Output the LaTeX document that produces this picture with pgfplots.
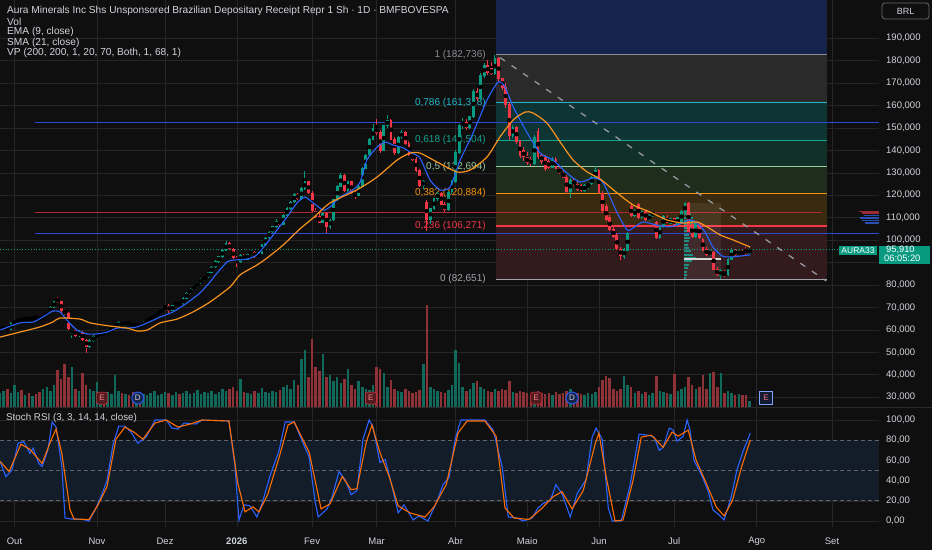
\documentclass[border=0pt]{standalone}
\usepackage{fontspec}
\setmainfont{Liberation Sans}
\usepackage{pgfplots}
\usepackage{pgfplotstable}
\pgfplotsset{compat=1.18}
\definecolor{bgc}{HTML}{0F0F0F}
\definecolor{gridc}{HTML}{262626}
\definecolor{txt}{HTML}{D1D4DC}
\definecolor{upc}{HTML}{089981}
\definecolor{dnc}{HTML}{F23645}
\definecolor{vup}{HTML}{11695C}
\definecolor{vdn}{HTML}{8F3238}
\definecolor{emac}{HTML}{2962FF}
\definecolor{smac}{HTML}{F7931E}
\definecolor{kc}{HTML}{2962FF}
\definecolor{dc}{HTML}{FF6D00}
\definecolor{fibgrey}{HTML}{8A8D96}
\definecolor{fibcyan}{HTML}{22B8CF}
\definecolor{fibteal}{HTML}{14A38F}
\definecolor{fibgreen}{HTML}{9CCB9E}
\definecolor{fiborange}{HTML}{F5930C}
\definecolor{fibred}{HTML}{F23645}
\definecolor{zblue}{HTML}{16234A}
\definecolor{zgrey}{HTML}{2A2A2A}
\definecolor{zcyan}{HTML}{0E3434}
\definecolor{zteal}{HTML}{12302A}
\definecolor{zgreen}{HTML}{1E2D1C}
\definecolor{zorange}{HTML}{3A2A10}
\definecolor{zred}{HTML}{321A1D}
\definecolor{hblue}{HTML}{2B4BD0}
\definecolor{hred}{HTML}{B02A35}
\definecolor{band}{HTML}{121D29}
\definecolor{sepc}{HTML}{2A2A2A}
\definecolor{vpred}{HTML}{9B2B33}
\definecolor{vpblue}{HTML}{2B4FB5}
\definecolor{vpteal}{HTML}{1F8F84}
\newcommand\fs[1]{\fontsize{#1}{#1}\selectfont}

\pgfplotstableread{
i o h l c v
-4 60.0 61.0 59.5 60.5 14
-3 60.5 61.5 60.0 61.0 16
-2 61.0 61.2 59.5 60.0 18
-1 60.0 63.5 59.8 63.0 14
0 63.0 64.2 62.5 63.8 22
1 63.8 65.0 63.0 64.5 15
2 64.5 65.5 63.5 64.0 17
3 64.0 65.8 63.8 65.3 12
4 65.3 65.5 64.0 64.5 14
5 64.5 66.0 64.3 65.6 11
6 65.6 66.0 64.8 65.0 13
7 65.0 65.5 64.3 64.8 15
8 64.8 66.6 64.6 66.2 18
9 66.2 68.5 66.0 68.0 20
10 68.0 70.5 67.8 70.0 16
11 70.0 73.0 69.8 72.5 22
12 74.0 74.6 72.0 72.6 37
13 72.6 73.0 67.5 68.5 28
14 68.5 69.5 66.5 67.5 43
15 67.5 68.0 60.0 60.5 30
16 58.5 60.5 56.5 60.0 40
17 60.0 60.8 56.8 57.5 18
18 57.5 60.0 57.0 59.0 16
19 59.0 59.5 55.0 55.5 34
20 55.5 56.0 49.7 52.5 22
21 52.5 55.8 52.0 55.2 18
22 55.2 57.5 54.8 57.0 16
23 57.0 58.5 56.5 58.0 25
24 58.0 59.2 57.6 58.5 14
25 58.5 59.0 57.8 58.2 12
26 58.2 60.2 58.0 60.0 15
27 60.0 60.8 59.5 60.5 13
28 60.5 62.0 60.2 61.5 32
29 61.5 63.8 61.0 63.2 16
30 63.2 63.5 61.5 62.0 14
31 62.0 64.0 61.8 63.5 13
32 63.5 63.8 62.2 62.6 12
33 62.6 63.0 61.2 61.6 15
34 61.6 62.8 61.3 62.3 11
35 62.3 62.6 60.8 61.8 14
36 61.8 63.8 61.5 63.5 13
37 63.5 64.8 63.2 64.5 12
38 64.5 65.8 64.2 65.5 14
39 65.5 67.0 65.2 66.6 16
40 66.6 68.4 66.4 68.0 12
41 68.0 69.8 67.8 69.5 13
42 69.5 71.0 69.2 70.6 15
43 70.6 71.5 67.5 68.5 14
44 68.5 71.3 68.2 71.0 12
45 71.0 72.5 70.6 72.0 15
46 72.0 72.4 71.0 71.5 13
47 71.5 74.5 71.3 74.0 14
48 74.0 77.0 73.8 76.5 16
49 76.5 78.5 76.2 78.0 13
50 78.0 80.0 77.6 79.6 14
51 79.6 81.5 79.2 81.0 17
52 81.0 83.0 80.6 82.6 13
53 82.6 84.0 82.0 83.5 15
54 83.5 86.0 83.2 85.6 14
55 85.6 88.5 85.2 88.0 16
56 88.0 91.0 87.6 90.5 13
57 90.5 93.0 90.0 92.6 15
58 92.6 96.0 92.2 95.5 18
59 95.5 99.8 95.0 98.5 16
60 98.5 99.2 95.5 96.0 18
61 96.0 96.5 91.5 92.0 20
62 92.0 93.0 88.2 90.5 16
63 90.5 93.8 90.0 93.2 28
64 93.2 93.6 91.0 91.5 15
65 91.5 94.0 91.2 93.6 14
66 93.6 95.6 93.0 94.6 13
67 94.6 95.0 92.0 92.5 16
68 92.5 94.5 92.0 94.0 14
69 94.0 98.5 93.8 98.0 19
70 98.0 101.5 97.6 101.0 15
71 101.0 104.0 100.6 103.6 14
72 103.6 106.5 103.2 106.0 16
73 106.0 109.5 105.6 108.6 15
74 108.6 109.0 106.5 107.0 17
75 107.0 111.5 106.8 111.0 20
76 111.0 114.6 110.6 114.0 22
77 114.0 117.5 113.6 117.0 18
78 117.0 121.0 116.6 120.5 27
79 120.5 121.0 118.0 118.5 22
80 118.5 123.5 118.0 123.0 48
81 123.0 131.0 122.5 126.0 57
82 126.0 126.5 120.5 121.0 30
83 121.0 122.0 112.5 113.0 68
84 113.0 114.5 110.0 110.5 40
85 110.5 112.0 107.5 108.0 36
86 108.0 112.5 107.6 112.0 53
87 112.0 112.5 103.0 106.0 30
88 106.0 109.5 105.0 109.0 32
89 109.0 118.5 108.6 118.0 26
90 118.0 124.5 117.6 124.0 30
91 124.0 130.0 123.5 129.0 24
92 129.0 129.5 121.5 122.0 28
93 122.0 126.5 121.5 126.0 38
94 126.0 126.3 120.5 121.0 22
95 121.0 122.0 118.5 120.0 18
96 120.0 124.5 119.6 124.0 26
97 124.0 132.5 123.6 132.0 20
98 132.0 138.5 131.6 138.0 18
99 138.0 145.5 137.6 145.0 17
100 145.0 152.0 144.6 150.0 22
101 150.0 154.0 147.0 148.0 40
102 148.0 149.0 139.0 140.0 38
103 140.0 151.5 139.6 151.0 34
104 151.0 155.8 150.0 153.5 20
105 153.5 154.0 144.5 145.0 27
106 145.0 146.0 138.0 139.0 18
107 139.0 146.5 138.6 146.0 16
108 146.0 149.0 145.0 148.0 15
109 148.0 148.5 142.5 143.0 18
110 143.0 144.0 137.5 138.0 16
111 138.0 139.0 135.5 136.0 14
112 136.0 137.0 130.5 131.0 15
113 131.0 131.5 123.5 124.5 17
114 124.5 127.0 123.0 126.0 43
115 117.0 118.0 104.0 109.0 102
116 109.0 114.5 107.0 114.0 20
117 114.0 119.0 113.5 118.5 18
118 118.5 121.5 117.5 121.0 16
119 121.0 121.5 115.5 116.0 15
120 116.0 117.0 112.5 113.5 14
121 113.5 122.0 113.0 121.5 17
122 121.5 127.0 120.5 126.0 22
123 126.0 140.0 125.5 139.0 57
124 139.0 152.0 138.5 151.0 44
125 151.0 154.5 149.5 152.5 20
126 152.5 154.0 149.0 150.0 16
127 150.0 155.5 149.5 155.0 18
128 155.0 167.5 154.5 166.5 24
129 166.5 168.0 162.0 163.0 26
130 163.0 174.5 162.5 173.5 20
131 173.5 179.0 172.5 178.0 18
132 178.0 180.5 173.5 174.5 16
133 176.5 179.5 173.5 174.0 15
134 174.0 182.7 173.5 181.0 18
135 181.0 181.5 171.0 172.0 16
136 172.0 172.5 167.0 168.0 18
137 168.0 170.0 159.0 160.5 17
138 160.5 161.5 144.5 146.5 26
139 146.5 151.5 145.5 150.5 15
140 150.5 151.0 143.0 144.0 14
141 144.0 144.5 136.5 137.5 16
142 140.0 141.5 135.5 137.0 15
143 137.0 139.5 133.5 134.5 14
144 136.0 137.0 133.0 134.0 13
145 134.0 147.0 133.5 146.0 15
146 148.5 150.0 136.0 137.0 16
147 138.0 139.0 134.0 135.0 14
148 137.0 138.0 131.0 132.0 13
149 135.0 136.0 131.5 132.5 14
150 132.5 137.0 132.0 136.0 12
151 136.0 137.0 131.5 132.0 15
152 132.0 133.0 129.5 130.0 13
153 130.0 131.0 127.5 128.0 14
154 128.0 129.0 120.5 121.5 16
155 121.5 127.5 119.0 126.5 18
156 126.5 127.5 124.0 125.0 12
157 125.0 126.5 122.0 122.5 14
158 124.5 125.0 121.5 122.0 13
159 122.0 125.0 121.5 124.5 12
160 124.0 125.5 123.0 125.0 14
161 125.0 128.5 124.5 128.0 13
162 128.0 133.0 127.5 131.0 15
163 131.0 131.5 120.5 121.0 20
164 121.0 122.0 112.5 113.0 27
165 115.0 116.0 108.5 109.0 31
166 110.0 111.0 104.0 104.5 29
167 105.0 106.0 101.0 101.5 18
168 102.0 103.0 95.5 96.0 16
169 96.0 97.0 91.0 93.0 18
170 92.5 96.5 91.5 96.0 31
171 95.5 103.5 95.0 103.0 22
172 115.0 116.5 110.5 111.0 20
173 111.0 114.0 110.5 113.5 14
174 116.0 116.5 109.5 110.0 16
175 110.0 113.5 109.5 113.0 13
176 113.0 113.5 108.5 109.0 15
177 109.0 111.5 108.5 111.0 12
178 111.0 113.0 110.5 112.5 14
179 108.0 108.5 100.5 101.0 31
180 101.0 106.5 100.5 106.0 16
181 106.0 111.0 105.5 110.5 15
182 110.0 111.0 107.5 108.0 14
183 107.5 110.0 107.0 109.5 13
184 109.5 110.0 106.5 107.0 33
185 107.0 110.5 106.5 110.0 16
186 108.0 113.5 107.5 113.0 18
187 112.0 117.0 111.5 116.5 20
188 116.5 117.0 103.5 104.0 30
189 107.0 108.0 101.0 101.5 22
190 101.5 107.5 101.0 107.0 18
191 107.0 107.5 100.5 101.0 20
192 100.5 101.0 95.0 95.5 32
193 96.0 97.0 93.0 93.5 18
194 93.5 95.5 93.0 95.0 34
195 94.5 95.0 86.5 87.0 35
196 87.0 88.0 83.8 84.5 20
197 84.0 87.0 82.65 86.5 34
198 86.0 86.5 83.5 84.5 14
199 84.5 92.0 84.0 91.5 16
200 91.5 96.5 91.0 95.5 14
201 95.5 96.0 93.0 93.5 12
202 93.5 95.5 93.0 95.0 13
203 95.0 95.5 93.0 93.5 12
204 96.0 97.0 93.5 94.0 12
205 94.0 96.8 93.8 95.91 6
}\ohlc

\pgfplotsset{
  pane/.style={at={(0pt,143pt)}, anchor=south west, scale only axis,
    width=879pt, height=407pt, xmin=-4.04, xmax=241.1, ymin=25.61, ymax=207.06},
}
\tikzset{
  emark/.style={draw=dnc, fill=dnc!30!bgc, text=dnc!60!white, font=\fs{8}, inner sep=0pt,
        minimum width=11pt, minimum height=12pt, rounded corners=1.5pt},
  dmark/.style={circle, draw=emac, fill=emac!25!bgc, text=txt, font=\fs{8}, inner sep=0pt,
        minimum size=12pt, line width=0.9pt},
}

\begin{document}
\begin{tikzpicture}
\path[use as bounding box, fill=bgc] (0,0) rectangle (932pt,550pt);

% ---------- main pane: grid, fib zones, levels
\begin{axis}[pane,
  xtick={0,23,42,62,83,101,123,143,163,184,207,228}, xticklabels={},
  ytick={30,40,50,60,70,80,100,110,120,130,140,150,160,170,180,190}, yticklabel pos=right,
  extra y ticks={90}, extra y tick labels={},
  /pgf/number format/assume math mode=true,
  yticklabel={\pgfmathprintnumber[fixed,fixed zerofill,precision=3,use comma]{\tick}},
  yticklabel style={anchor=west, xshift=7pt, inner sep=0pt, text=txt, font=\fs{9.5}},
  grid=major, grid style={gridc, line width=0.6pt},
  axis line style={draw=none}, major tick length=0pt]
\addplot[fill=zblue, draw=none] coordinates {(134.3,182.736)(226.6,182.736)(226.6,207.06)(134.3,207.06)} -- cycle;
\addplot[fill=zgrey, draw=none] coordinates {(134.3,161.318)(226.6,161.318)(226.6,182.736)(134.3,182.736)} -- cycle;
\addplot[fill=zcyan, draw=none] coordinates {(134.3,144.504)(226.6,144.504)(226.6,161.318)(134.3,161.318)} -- cycle;
\addplot[fill=zteal, draw=none] coordinates {(134.3,132.694)(226.6,132.694)(226.6,144.504)(134.3,144.504)} -- cycle;
\addplot[fill=zgreen, draw=none] coordinates {(134.3,120.884)(226.6,120.884)(226.6,132.694)(134.3,132.694)} -- cycle;
\addplot[fill=zorange, draw=none] coordinates {(134.3,106.271)(226.6,106.271)(226.6,120.884)(134.3,120.884)} -- cycle;
\addplot[fill=zred, draw=none] coordinates {(134.3,82.651)(226.6,82.651)(226.6,106.271)(134.3,106.271)} -- cycle;
\addplot[fibgrey, line width=1pt] coordinates {(134.3,182.736)(226.6,182.736)};
\addplot[fibcyan, line width=1pt] coordinates {(134.3,161.318)(226.6,161.318)};
\addplot[fibteal, line width=1pt] coordinates {(134.3,144.504)(226.6,144.504)};
\addplot[fibgreen, line width=1pt] coordinates {(134.3,132.694)(226.6,132.694)};
\addplot[fiborange, line width=1.2pt] coordinates {(134.3,120.884)(226.6,120.884)};
\addplot[fibred, line width=1.2pt] coordinates {(134.3,106.271)(226.6,106.271)};
\addplot[fibgrey!80!white, line width=1pt] coordinates {(134.3,82.651)(226.6,82.651)};
\addplot[hblue, line width=1.1pt] coordinates {(5.7,152.5)(241.1,152.5)};
\addplot[hred, line width=1.1pt] coordinates {(5.7,112.5)(225.3,112.5)};
\addplot[hblue, line width=1.1pt] coordinates {(5.7,103.0)(241.1,103.0)};
\end{axis}

% ---------- volume
\begin{axis}[pane, ymin=0, ymax=407, hide axis]
\addplot[ycomb, vup, line width=2.5pt, restrict expr to domain={\thisrow{c}-\thisrow{o}}{0:1000}] table[x=i,y=v]{\ohlc};
\addplot[ycomb, vdn, line width=2.5pt, restrict expr to domain={\thisrow{c}-\thisrow{o}}{-1000:-0.000001}] table[x=i,y=v]{\ohlc};
\end{axis}

% ---------- candles and overlays
\begin{axis}[pane, hide axis, clip mode=individual]
\addplot[upc, dotted, line width=0.8pt] coordinates {(-4.04,95.91)(241.1,95.91)};
\node[anchor=east, text=fibgrey, font=\fs{10}] at (axis cs:132.4,182.736) {1 (182,736)};
\node[anchor=east, text=fibcyan, font=\fs{10}] at (axis cs:132.4,161.318) {0,786 (161,318)};
\node[anchor=east, text=fibteal, font=\fs{10}] at (axis cs:132.4,144.504) {0,618 (144,504)};
\node[anchor=east, text=fibgreen, font=\fs{10}] at (axis cs:132.4,132.694) {0,5 (132,694)};
\node[anchor=east, text=fiborange, font=\fs{10}] at (axis cs:132.4,120.884) {0,382 (120,884)};
\node[anchor=east, text=fibred, font=\fs{10}] at (axis cs:132.4,106.271) {0,236 (106,271)};
\node[anchor=east, text=fibgrey!80!white, font=\fs{10}] at (axis cs:132.4,82.651) {0 (82,651)};
% session volume profile
\addplot[fill=white, fill opacity=0.07, draw=none] coordinates {(186.6,82.65)(197.1,82.65)(197.1,116.6)(186.6,116.6)} -- cycle;
\addplot[vpteal, line width=2pt, quiver={u=\thisrow{w}, v=0}] table[x=x, y=p] {
x p w
186.6 116.0 0.8
186.6 114.5 1.2
186.6 113.0 1.8
186.6 111.5 2.2
186.6 110.0 2.6
186.6 108.5 3.0
186.6 107.0 3.2
186.6 105.5 2.5
186.6 104.0 2.0
186.6 102.5 1.6
186.6 101.0 1.8
186.6 99.5 1.4
186.6 98.0 1.2
186.6 96.5 1.6
186.6 95.0 2.2
186.6 93.5 2.6
186.6 92.0 3.4
186.6 90.5 2.4
186.6 89.0 1.4
186.6 87.5 1.2
186.6 86.0 1.0
186.6 84.5 0.9
186.6 83.0 0.6
};
\addplot[white!85!black, line width=1.5pt] coordinates {(186.6,91.6)(197.1,91.6)};
% visible range profile
\addplot[vpred, line width=1.6pt, quiver={u=\thisrow{w}, v=0}] table[x=x, y=p] {
x p w
235.4 112.7 5.6
236.3 112.0 4.7
};
\addplot[vpblue, line width=1.6pt, quiver={u=\thisrow{w}, v=0}] table[x=x, y=p] {
x p w
236.8 111.0 4.2
235.8 109.9 5.2
236.3 108.7 4.7
237.2 107.6 3.8
};
% wicks and bodies
\addplot[only marks, mark=none, restrict expr to domain={\thisrow{c}-\thisrow{o}}{0:1000},
  error bars/.cd, y dir=both, y explicit, error mark=none, error bar style={upc, line width=1pt}]
  table[x=i, y expr=(\thisrow{h}+\thisrow{l})/2, y error expr=(\thisrow{h}-\thisrow{l})/2]{\ohlc};
\addplot[only marks, mark=none, restrict expr to domain={\thisrow{c}-\thisrow{o}}{-1000:-0.000001},
  error bars/.cd, y dir=both, y explicit, error mark=none, error bar style={dnc, line width=1pt}]
  table[x=i, y expr=(\thisrow{h}+\thisrow{l})/2, y error expr=(\thisrow{h}-\thisrow{l})/2]{\ohlc};
\addplot[only marks, mark=none, restrict expr to domain={\thisrow{c}-\thisrow{o}}{0:1000},
  error bars/.cd, y dir=both, y explicit, error mark=none, error bar style={upc, line width=2.8pt}]
  table[x=i, y expr=(\thisrow{o}+\thisrow{c})/2, y error expr=abs(\thisrow{c}-\thisrow{o})/2+0.15]{\ohlc};
\addplot[only marks, mark=none, restrict expr to domain={\thisrow{c}-\thisrow{o}}{-1000:-0.000001},
  error bars/.cd, y dir=both, y explicit, error mark=none, error bar style={dnc, line width=2.8pt}]
  table[x=i, y expr=(\thisrow{o}+\thisrow{c})/2, y error expr=abs(\thisrow{c}-\thisrow{o})/2+0.15]{\ohlc};
% EMA 9
\addplot[emac, line width=1.1pt, smooth, tension=0.4] coordinates {
(-4.0,59.9)(1.5,63.1)(5.2,63.5)(7.9,65.7)(10.7,68.4)(12.7,68.0)(14.6,64.4)(17.4,59.9)
(20.2,58.2)(23.0,58.2)(25.8,59.0)(28.6,60.8)(31.4,60.8)(34.2,61.3)(37.0,63.1)(40.6,65.7)
(44.2,68.0)(48.1,72.0)(51.7,76.4)(54.5,81.3)(56.5,85.3)(59.3,90.3)(61.0,91.1)(64.9,91.6)
(67.6,93.4)(70.4,98.7)(73.2,104.5)(76.0,110.3)(78.8,116.6)(81.0,119.2)(83.3,116.6)(86.1,113.4)
(88.0,114.8)(90.8,119.2)(94.4,122.4)(96.4,125.9)(98.3,135.7)(101.1,141.5)(103.4,143.7)(105.6,142.4)
(108.4,141.1)(110.9,138.8)(113.1,136.6)(115.9,126.8)(118.7,122.4)(121.5,123.7)(124.3,135.7)(127.9,147.8)
(131.8,162.5)(134.9,170.5)(136.8,168.3)(139.1,159.4)(143.0,147.8)(146.6,138.8)(150.2,135.7)(154.1,129.9)
(157.7,125.9)(161.4,127.7)(164.2,125.5)(168.1,112.1)(170.9,104.5)(172.5,105.4)(175.3,108.1)(179.2,106.7)
(182.8,105.9)(186.2,107.6)(188.4,109.0)(190.4,107.6)(192.6,103.6)(194.8,96.9)(197.4,92.9)(199.6,92.5)
(202.4,92.9)(205.2,93.4)};
% SMA 21
\addplot[smac, line width=1.2pt, smooth, tension=0.4] coordinates {
(-4.0,56.8)(1.5,59.0)(7.1,61.3)(10.7,63.5)(12.7,65.3)(18.3,64.8)(21.1,63.1)(26.6,61.7)
(31.4,60.8)(34.2,59.5)(37.0,59.9)(40.6,63.1)(45.3,64.8)(49.8,68.0)(54.5,72.4)(60.1,79.1)
(62.9,84.5)(67.6,88.9)(70.4,92.0)(74.9,97.8)(79.6,105.0)(83.3,109.9)(88.0,116.6)(95.5,122.4)
(101.1,128.1)(106.7,135.7)(110.3,138.8)(113.1,138.8)(117.9,134.8)(123.4,130.4)(127.1,131.3)(131.8,137.1)
(135.4,146.0)(139.1,153.6)(142.4,157.1)(144.6,156.7)(148.5,152.2)(152.2,143.7)(155.8,135.7)(159.7,130.4)
(163.3,127.3)(168.1,121.0)(172.5,115.7)(177.3,112.5)(182.0,109.0)(186.5,107.6)(190.4,108.1)(193.2,105.9)
(196.8,102.3)(200.4,100.1)(205.2,96.9)};
% trend line
\addplot[fibgrey!90!white, line width=1.3pt, dash pattern=on 6pt off 8pt] coordinates {(135.4,181.4)(226.4,81.8)};
% event markers
\node[emark] at (axis cs:24.4,29.6) {E};
\node[emark] at (axis cs:99.4,29.6) {E};
\node[emark] at (axis cs:145.5,29.6) {E};
\node[dmark] at (axis cs:34.4,29.6) {D};
\node[dmark] at (axis cs:155.5,29.6) {D};
\node[draw=emac!60!white, fill=emac!15!bgc, text=dnc!70!white, font=\fs{8}, inner sep=0pt,
      minimum width=13pt, minimum height=13pt, line width=0.9pt] at (axis cs:209.6,29.6) {E};
\end{axis}

% ---------- Stoch RSI pane
\begin{axis}[at={(0pt,23pt)}, anchor=south west, scale only axis,
  width=879pt, height=119pt, xmin=-4.04, xmax=241.1, ymin=-5.94, ymax=111.88,
  xtick={0,23,42,62,83,101,123,143,163,184,207,228},
  xticklabels={Out,Nov,Dez,\textbf{2026},Fev,Mar,Abr,Maio,Jun,Jul,Ago,Set},
  xticklabel style={anchor=center, yshift=-14pt, text=txt, font=\fs{9.5}},
  ytick={0,20,...,100}, yticklabel pos=right,
  /pgf/number format/assume math mode=true,
  yticklabel={\pgfmathprintnumber[fixed,fixed zerofill,precision=2,use comma]{\tick}},
  yticklabel style={anchor=west, xshift=7pt, inner sep=0pt, text=txt, font=\fs{9.5}},
  grid=major, grid style={gridc, line width=0.6pt},
  axis line style={draw=none}, major tick length=0pt]
\addplot[fill=band, draw=none] coordinates {(-4.04,20)(241.1,20)(241.1,80)(-4.04,80)} -- cycle;
\addplot[fibgrey!70!black, line width=0.8pt, dash pattern=on 4pt off 3pt] coordinates {(-4.04,80)(241.1,80)};
\addplot[fibgrey!70!black, line width=0.8pt, dash pattern=on 4pt off 3pt] coordinates {(-4.04,50)(241.1,50)};
\addplot[fibgrey!70!black, line width=0.8pt, dash pattern=on 4pt off 3pt] coordinates {(-4.04,20)(241.1,20)};
\addplot[kc, line width=1.1pt] coordinates {
(-4.0,58.7)(-2.4,43.9)(-0.7,50.5)(1.0,77)(2.6,78.5)(4.3,67)(5.2,72)(6.8,57)(7.7,54)(9.3,70)
(10.5,98)(11.6,93)(13.2,54)(14.1,3)(15.8,2)(19.1,1.5)(20.8,0)(22.5,11)(24.1,24)(25.8,40)
(27.5,76)(29.1,94)(30.8,94)(32.5,88)(34.4,77)(36.7,83)(39.2,100)(42.3,100)(43.9,92)(45.6,91)
(47.3,97)(50.6,96)(52.3,100)(59.8,99)(61.5,54)(62.6,1)(64.0,16)(65.7,15)(67.6,4)(69.0,17)
(71.3,45)(73.8,70)(75.5,98)(78.0,98)(80.5,77)(82.2,63)(83.8,20)(84.7,4)(87.2,12)(88.6,24)
(90.5,49)(92.2,41)(93.9,26)(95.5,30)(97.2,81)(98.9,100)(100.0,93)(101.9,58)(103.4,61)(105.3,34)
(107.0,8)(108.6,16)(111.2,1)(112.8,5)(115.3,0)(117.9,20)(119.5,36)(121.2,43)(122.9,81)(124.5,100)
(131.2,100)(133.5,90)(136.0,54)(137.7,4)(140.2,3)(141.8,0)(144.4,3)(146.0,13)(147.7,18)(149.4,20)
(151.0,36)(152.7,27)(155.0,4)(156.9,27)(159.4,41)(161.1,83)(162.2,92)(163.9,81)(165.6,13)(166.7,0)
(169.2,0)(171.7,36)(174.2,86)(176.7,85)(178.4,83)(179.8,70)(180.9,73)(182.6,92)(183.7,90)(184.8,79)
(186.5,84)(187.6,100)(188.4,90)(189.5,60)(191.8,44)(193.4,30)(194.8,11)(196.5,6)(197.9,1)(199.9,24)
(201.5,51)(203.2,69)(205.2,87)};
\addplot[dc, line width=1.1pt] coordinates {
(-4.0,59)(-1.5,49)(1.8,76)(4.3,71)(7.7,57)(10.2,80)(11.6,91)(13.2,67)(15.5,11)(16.6,2)
(20.8,1.5)(23.3,16)(25.8,34)(28.3,81)(30.8,93)(33.3,88)(35.8,81)(39.2,97)(42.3,100)(45.6,93)
(49.0,96)(52.3,100)(59.8,99)(62.3,37)(64.3,9)(66.5,14)(68.2,9)(70.7,27)(73.8,63)(76.3,95)
(78.0,98)(82.2,68)(85.5,12)(88.0,17)(91.4,44)(93.9,31)(95.5,32)(98.1,78)(99.7,95)(101.9,68)
(104.5,44)(107.0,15)(110.3,8)(114.5,4)(117.0,14)(120.4,36)(123.7,87)(126.2,99)(131.2,99)(134.3,84)
(136.8,13)(139.3,3)(143.5,1.5)(146.9,12)(150.2,24)(152.7,29)(155.5,12)(158.6,30)(162.0,77)(163.0,87)
(165.0,44)(167.5,0)(169.7,1)(172.5,40)(174.8,83)(177.6,85)(180.9,73)(183.4,88)(185.1,84)(187.9,90)
(190.1,60)(192.6,40)(195.7,14)(197.9,5)(200.2,20)(202.9,55)(205.2,80)};
\end{axis}

% ---------- separators, legends, boxes
\draw[sepc, line width=1pt] (0,142.5pt) -- (932pt,142.5pt);
\node[anchor=west, text=txt, font=\fs{10.15}, inner sep=0pt] at (7pt,539.3pt) {Aura Minerals Inc Shs Unsponsored Brazilian Depositary Receipt Repr 1 Sh · 1D · BMFBOVESPA};
\node[anchor=west, text=txt, font=\fs{10.15}, inner sep=0pt] at (7pt,528.3pt) {Vol};
\node[anchor=west, text=txt, font=\fs{10.15}, inner sep=0pt] at (7pt,517.7pt) {EMA (9, close)};
\node[anchor=west, text=txt, font=\fs{10.15}, inner sep=0pt] at (7pt,507.3pt) {SMA (21, close)};
\node[anchor=west, text=txt, font=\fs{10.15}, inner sep=0pt] at (7pt,496.7pt) {VP (200, 200, 1, 20, 70, Both, 1, 68, 1)};
\node[anchor=west, text=txt, font=\fs{9.8}, inner sep=0pt] at (6pt,132.3pt) {Stoch RSI (3, 3, 14, 14, close)};
\draw[sepc!70!white, rounded corners=3pt, line width=0.8pt] (882pt,531pt) rectangle (929pt,547pt);
\node[text=txt, font=\fs{9}] at (905.5pt,539pt) {BRL};
\fill[upc] (839pt,295pt) rectangle (877pt,304pt);
\node[text=white, font=\fs{8.5}, inner sep=0pt] at (858pt,299.5pt) {AURA33};
\fill[upc] (879pt,285.7pt) rectangle (930pt,304.3pt);
\node[anchor=west, text=white, font=\fs{9.3}, inner sep=0pt] at (886pt,300pt) {95,910};
\node[anchor=west, text=white, font=\fs{9.3}, inner sep=0pt] at (884pt,291.3pt) {06:05:20};
\end{tikzpicture}
\end{document}
